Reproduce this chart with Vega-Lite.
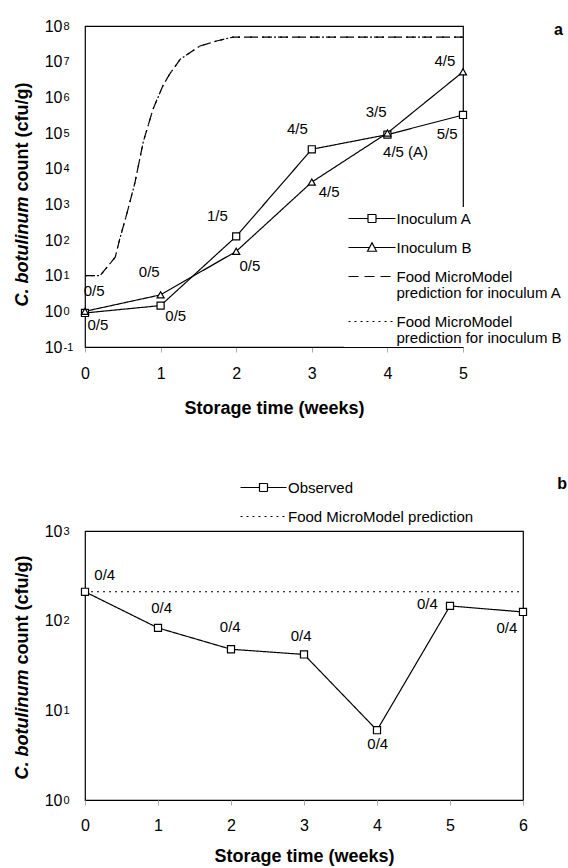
{
  "$schema": "https://vega.github.io/schema/vega-lite/v6.json",
  "padding": {"left": 12, "top": 17, "right": 0, "bottom": 0},
  "spacing": 57,
  "config": {
    "font": "Liberation Sans",
    "view": {"stroke": "black", "strokeWidth": 1.2},
    "axis": {"domain": false, "grid": false, "labelColor": "black", "titleColor": "black"}
  },
  "datasets": {
    "a": [
      {"t": 0, "v": 0.9, "s": "Inoculum A"},
      {"t": 1, "v": 1.45, "s": "Inoculum A"},
      {"t": 2, "v": 126, "s": "Inoculum A"},
      {"t": 3, "v": 35000, "s": "Inoculum A"},
      {"t": 4, "v": 90000, "s": "Inoculum A"},
      {"t": 5, "v": 320000, "s": "Inoculum A"},
      {"t": 0, "v": 1.0, "s": "Inoculum B"},
      {"t": 1, "v": 2.9, "s": "Inoculum B"},
      {"t": 2, "v": 48, "s": "Inoculum B"},
      {"t": 3, "v": 4200, "s": "Inoculum B"},
      {"t": 4, "v": 100000, "s": "Inoculum B"},
      {"t": 5, "v": 5200000, "s": "Inoculum B"},
      {"t": 0, "v": 10, "s": "Food MicroModel prediction for inoculum A"},
      {"t": 0.15, "v": 10, "s": "Food MicroModel prediction for inoculum A"},
      {"t": 0.2, "v": 10, "s": "Food MicroModel prediction for inoculum A"},
      {"t": 0.4, "v": 33, "s": "Food MicroModel prediction for inoculum A"},
      {"t": 0.46, "v": 107, "s": "Food MicroModel prediction for inoculum A"},
      {"t": 0.56, "v": 617, "s": "Food MicroModel prediction for inoculum A"},
      {"t": 0.66, "v": 4000, "s": "Food MicroModel prediction for inoculum A"},
      {"t": 0.77, "v": 56000, "s": "Food MicroModel prediction for inoculum A"},
      {"t": 0.9, "v": 468000, "s": "Food MicroModel prediction for inoculum A"},
      {"t": 1.03, "v": 2100000, "s": "Food MicroModel prediction for inoculum A"},
      {"t": 1.12, "v": 4500000, "s": "Food MicroModel prediction for inoculum A"},
      {"t": 1.26, "v": 11700000, "s": "Food MicroModel prediction for inoculum A"},
      {"t": 1.52, "v": 27500000, "s": "Food MicroModel prediction for inoculum A"},
      {"t": 1.74, "v": 38000000, "s": "Food MicroModel prediction for inoculum A"},
      {"t": 1.96, "v": 49000000, "s": "Food MicroModel prediction for inoculum A"},
      {"t": 5, "v": 49000000, "s": "Food MicroModel prediction for inoculum A"},
      {"t": 0, "v": 10, "s": "Food MicroModel prediction for inoculum B"},
      {"t": 0.15, "v": 10, "s": "Food MicroModel prediction for inoculum B"},
      {"t": 0.2, "v": 10, "s": "Food MicroModel prediction for inoculum B"},
      {"t": 0.4, "v": 33, "s": "Food MicroModel prediction for inoculum B"},
      {"t": 0.46, "v": 107, "s": "Food MicroModel prediction for inoculum B"},
      {"t": 0.56, "v": 617, "s": "Food MicroModel prediction for inoculum B"},
      {"t": 0.66, "v": 4000, "s": "Food MicroModel prediction for inoculum B"},
      {"t": 0.77, "v": 56000, "s": "Food MicroModel prediction for inoculum B"},
      {"t": 0.9, "v": 468000, "s": "Food MicroModel prediction for inoculum B"},
      {"t": 1.03, "v": 2100000, "s": "Food MicroModel prediction for inoculum B"},
      {"t": 1.12, "v": 4500000, "s": "Food MicroModel prediction for inoculum B"},
      {"t": 1.26, "v": 11700000, "s": "Food MicroModel prediction for inoculum B"},
      {"t": 1.52, "v": 27500000, "s": "Food MicroModel prediction for inoculum B"},
      {"t": 1.74, "v": 38000000, "s": "Food MicroModel prediction for inoculum B"},
      {"t": 1.96, "v": 49000000, "s": "Food MicroModel prediction for inoculum B"},
      {"t": 5, "v": 49000000, "s": "Food MicroModel prediction for inoculum B"}
    ],
    "aLabels": [
      {"t": 0.12, "v": 3.7, "label": "0/5"},
      {"t": 0.17, "v": 0.42, "label": "0/5"},
      {"t": 0.85, "v": 12.6, "label": "0/5"},
      {"t": 1.2, "v": 0.74, "label": "0/5"},
      {"t": 1.75, "v": 470, "label": "1/5"},
      {"t": 2.18, "v": 18.6, "label": "0/5"},
      {"t": 2.81, "v": 130000, "label": "4/5"},
      {"t": 3.23, "v": 2240, "label": "4/5"},
      {"t": 3.85, "v": 390000, "label": "3/5"},
      {"t": 4.24, "v": 29500, "label": "4/5 (A)"},
      {"t": 4.76, "v": 10500000, "label": "4/5"},
      {"t": 4.79, "v": 93000, "label": "5/5"}
    ],
    "b": [
      {"t": 0, "v": 210, "s": "Observed"},
      {"t": 1, "v": 83, "s": "Observed"},
      {"t": 2, "v": 48, "s": "Observed"},
      {"t": 3, "v": 42, "s": "Observed"},
      {"t": 4, "v": 6.0, "s": "Observed"},
      {"t": 5, "v": 146, "s": "Observed"},
      {"t": 6, "v": 125, "s": "Observed"},
      {"t": 0, "v": 210, "s": "Food MicroModel prediction"},
      {"t": 6, "v": 210, "s": "Food MicroModel prediction"}
    ],
    "bLabels": [
      {"t": 0.27, "v": 324, "label": "0/4"},
      {"t": 1.05, "v": 138, "label": "0/4"},
      {"t": 1.99, "v": 85, "label": "0/4"},
      {"t": 2.96, "v": 67.5, "label": "0/4"},
      {"t": 4.01, "v": 4.2, "label": "0/4"},
      {"t": 4.69, "v": 155, "label": "0/4"},
      {"t": 5.78, "v": 83, "label": "0/4"}
    ]
  },
  "vconcat": [
    {
      "width": 378,
      "height": 321,
      "title": {"text": "a", "anchor": "end", "frame": "group", "orient": "top", "dx": 100, "dy": 33, "offset": 0, "fontSize": 16, "fontWeight": "bold", "baseline": "alphabetic", "color": "black"},
      "data": {"name": "a"},
      "layer": [
        {
          "mark": {"type": "line", "color": "black", "strokeWidth": 1.2},
          "encoding": {
            "x": {"field": "t", "type": "quantitative", "scale": {"domain": [0, 5], "nice": false},
              "axis": {"values": [0, 1, 2, 3, 4, 5], "format": "d", "domain": true, "domainColor": "black", "domainWidth": 1.2, "zindex": 2, "labelFontSize": 16, "labelPadding": 13, "tickSize": 5, "tickColor": "#aaaaaa", "tickWidth": 1, "labelFlush": false, "title": "Storage time (weeks)", "titleFontSize": 18, "titleFontWeight": "bold", "titleBaseline": "alphabetic", "titleY": 66}},
            "y": {"field": "v", "type": "quantitative", "scale": {"type": "log", "domain": [0.1, 100000000], "nice": false},
              "axis": {"values": [0.1, 1, 10, 100, 1000, 10000, 100000, 1000000, 10000000, 100000000], "labelExpr": "'10'", "ticks": false, "labelPadding": 23, "labelFontSize": 16, "labelBaseline": "middle", "labelOverlap": false, "labelFlush": false, "title": "count (cfu/g)", "titleFontSize": 18, "titleFontWeight": "bold", "titleAngle": -90, "titleAlign": "left", "titleBaseline": "alphabetic", "titleX": -58, "titleY": 165}},
            "strokeDash": {"field": "s", "type": "nominal",
              "scale": {"domain": ["Inoculum A", "Inoculum B", "Food MicroModel prediction for inoculum A", "Food MicroModel prediction for inoculum B"], "range": [[1, 0], [1, 0], [10, 6], [2, 4]]},
              "legend": {"orient": "none", "legendX": 259, "legendY": 181, "zindex": 1, "title": null, "padding": 4, "fillColor": "white", "symbolSize": 100, "symbolStrokeWidth": 1.2, "symbolStrokeColor": "black", "symbolFillColor": "white", "symbolOffset": 16.5, "labelOffset": 17, "labelFontSize": 15, "labelColor": "black", "labelLimit": 0, "labelBaseline": "top", "rowPadding": 13,
                "labelExpr": "indexof(datum.label, 'Food') == 0 ? ['Food MicroModel', slice(datum.label, 16)] : datum.label",
                "encode": {
                  "symbols": {"update": {"shape": {"signal": "datum.value == 'Inoculum A' ? 'M-4.7,0H-0.8M0.8,0H4.7M-0.8,-0.8H0.8V0.8H-0.8Z' : datum.value == 'Inoculum B' ? 'M-4.7,0H-0.5M0.5,0H4.7M0,-0.95L0.9,0.75H-0.9Z' : 'M-4.7,0H4.7'"}}},
                  "labels": {"update": {"dy": {"value": -7}, "lineHeight": {"value": 16}}}
                }}}
          }
        },
        {
          "transform": [{"filter": "datum.s == 'Inoculum A' || datum.s == 'Inoculum B'"}],
          "mark": {"type": "point", "filled": true, "fill": "white", "stroke": "black", "strokeWidth": 1.2, "size": 50, "opacity": 1},
          "encoding": {
            "x": {"field": "t", "type": "quantitative"},
            "y": {"field": "v", "type": "quantitative",
              "axis": {"orient": "left", "values": [0.1, 1, 10, 100, 1000, 10000, 100000, 1000000, 10000000, 100000000], "labelExpr": "datum.value < 0.5 ? '-1' : format(round(log(datum.value)/LN10), 'd')", "ticks": false, "labelPadding": 22, "labelAlign": "left", "labelFontSize": 11, "labelDy": -5, "labelBaseline": "middle", "labelOverlap": false, "labelFlush": false, "title": "C. botulinum", "titleFontSize": 18, "titleFontWeight": "bold", "titleFontStyle": "italic", "titleAngle": -90, "titleAlign": "left", "titleBaseline": "alphabetic", "titleX": -58, "titleY": 280}},
            "shape": {"field": "s", "type": "nominal", "scale": {"domain": ["Inoculum A", "Inoculum B"], "range": ["square", "triangle-up"]}, "legend": null}
          }
        },
        {
          "data": {"name": "aLabels"},
          "mark": {"type": "text", "fontSize": 15, "color": "black"},
          "encoding": {
            "x": {"field": "t", "type": "quantitative"},
            "y": {"field": "v", "type": "quantitative", "axis": null},
            "text": {"field": "label"}
          }
        }
      ],
      "resolve": {"axis": {"y": "independent"}}
    },
    {
      "width": 438,
      "height": 269,
      "title": {"text": "b", "anchor": "end", "frame": "group", "orient": "top", "dx": 44, "dy": 29, "offset": 0, "fontSize": 16, "fontWeight": "bold", "baseline": "alphabetic", "color": "black"},
      "data": {"name": "b"},
      "layer": [
        {
          "mark": {"type": "line", "color": "black", "strokeWidth": 1.2},
          "encoding": {
            "x": {"field": "t", "type": "quantitative", "scale": {"domain": [0, 6], "nice": false},
              "axis": {"values": [0, 1, 2, 3, 4, 5, 6], "format": "d", "labelFontSize": 16, "labelPadding": 12, "tickSize": 5, "tickColor": "#aaaaaa", "tickWidth": 1, "labelFlush": false, "title": "Storage time (weeks)", "titleFontSize": 18, "titleFontWeight": "bold", "titleBaseline": "alphabetic", "titleY": 61}},
            "y": {"field": "v", "type": "quantitative", "scale": {"type": "log", "domain": [1, 1000], "nice": false},
              "axis": {"values": [1, 10, 100, 1000], "labelExpr": "'10'", "ticks": false, "labelPadding": 23, "labelFontSize": 16, "labelBaseline": "middle", "labelOverlap": false, "labelFlush": false, "title": "count (cfu/g)", "titleFontSize": 18, "titleFontWeight": "bold", "titleAngle": -90, "titleAlign": "left", "titleBaseline": "alphabetic", "titleX": -58, "titleY": 133}},
            "strokeDash": {"field": "s", "type": "nominal",
              "scale": {"domain": ["Observed", "Food MicroModel prediction"], "range": [[1, 0], [2, 4]]},
              "legend": {"orient": "none", "legendX": 152, "legendY": -55, "title": null, "padding": 4, "symbolSize": 100, "symbolStrokeWidth": 1.2, "symbolStrokeColor": "black", "symbolFillColor": "white", "symbolOffset": 15, "labelOffset": 17, "labelFontSize": 15, "labelColor": "black", "labelLimit": 0, "rowPadding": 13,
                "encode": {
                  "symbols": {"update": {"shape": {"signal": "datum.value == 'Observed' ? 'M-4.6,0H-0.8M0.8,0H4.6M-0.8,-0.8H0.8V0.8H-0.8Z' : 'M-4.6,0H4.6'"}}}
                }}}
          }
        },
        {
          "transform": [{"filter": "datum.s == 'Observed'"}],
          "mark": {"type": "point", "shape": "square", "filled": true, "fill": "white", "stroke": "black", "strokeWidth": 1.2, "size": 50, "opacity": 1},
          "encoding": {
            "x": {"field": "t", "type": "quantitative"},
            "y": {"field": "v", "type": "quantitative",
              "axis": {"orient": "left", "values": [1, 10, 100, 1000], "labelExpr": "format(round(log(datum.value)/LN10), 'd')", "ticks": false, "labelPadding": 22, "labelAlign": "left", "labelFontSize": 11, "labelDy": -6, "labelBaseline": "middle", "labelOverlap": false, "labelFlush": false, "title": "C. botulinum", "titleFontSize": 18, "titleFontWeight": "bold", "titleFontStyle": "italic", "titleAngle": -90, "titleAlign": "left", "titleBaseline": "alphabetic", "titleX": -58, "titleY": 248}}
          }
        },
        {
          "data": {"name": "bLabels"},
          "mark": {"type": "text", "fontSize": 15, "color": "black"},
          "encoding": {
            "x": {"field": "t", "type": "quantitative"},
            "y": {"field": "v", "type": "quantitative", "axis": null},
            "text": {"field": "label"}
          }
        }
      ],
      "resolve": {"axis": {"y": "independent"}}
    }
  ],
  "resolve": {"scale": {"strokeDash": "independent", "shape": "independent"}, "legend": {"strokeDash": "independent", "shape": "independent"}}
}
